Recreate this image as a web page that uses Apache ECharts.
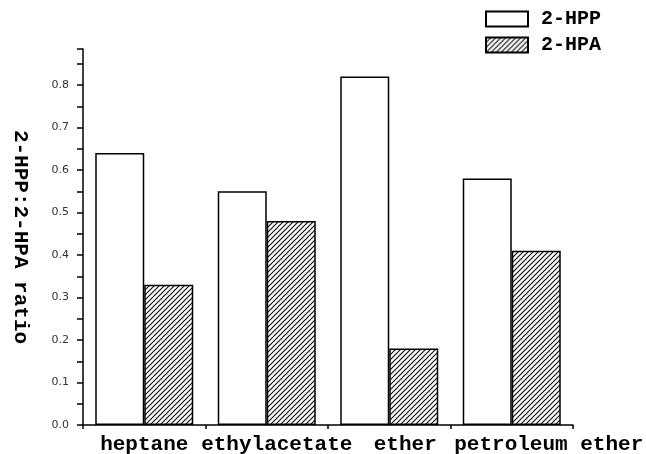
<!DOCTYPE html>
<html><head><meta charset="utf-8">
<script src="https://cdn.jsdelivr.net/npm/echarts@6/dist/echarts.min.js"></script>
<style>html,body{margin:0;padding:0;background:#fff}#c{width:646px;height:454px}</style>
</head><body><div id="c"></div>
<script>
const categories = ['heptane', 'ethylacetate', 'ether', 'petroleum ether'];
const seriesNames = ['2-HPP', '2-HPA'];
const hppValues = [0.64, 0.55, 0.82, 0.58];
const hpaValues = [0.33, 0.48, 0.18, 0.41];
const yTickValues = ['0.0','0.1','0.2','0.3','0.4','0.5','0.6','0.7','0.8'];

function hatch() {
  const s = 5, c = document.createElement('canvas');
  c.width = s; c.height = s;
  const g = c.getContext('2d');
  g.fillStyle = '#fff'; g.fillRect(0,0,s,s);
  g.strokeStyle = '#111'; g.lineWidth = 1.2;
  g.beginPath();
  g.moveTo(0,s); g.lineTo(s,0);
  g.moveTo(-1,1); g.lineTo(1,-1);
  g.moveTo(s-1,s+1); g.lineTo(s+1,s-1);
  g.stroke();
  return c;
}
const pat = {image: hatch(), repeat: 'repeat'};
const boldFont = '"Liberation Mono", "DejaVu Sans Mono", monospace';
const labelShift = [0, 20, 32, 74];

const rich = {};
labelShift.forEach((p, i) => {
  rich['c' + i] = {fontFamily: boldFont, fontWeight: 'bold', fontSize: 21, color: '#000', padding: [0, 0, 0, p]};
});

const chart = echarts.init(document.getElementById('c'), null, {renderer: 'canvas'});
chart.setOption({
  animation: false,
  backgroundColor: '#fff',
  grid: {left: 83, right: 73, top: 49, bottom: 29, containLabel: false, outerBoundsMode: 'none'},
  legend: {
    orient: 'vertical', left: 480, top: 4, itemWidth: 42, itemHeight: 15, itemGap: 6,
    icon: 'rect',
    textStyle: {fontFamily: boldFont, fontWeight: 'bold', fontSize: 20, lineHeight: 16, color: '#000', padding: [0,0,0,8]},
    data: seriesNames
  },
  xAxis: {
    type: 'category', data: categories,
    axisLine: {lineStyle: {color: '#000', width: 1.5}},
    axisTick: {show: true, length: 4, lineStyle: {color: '#000', width: 1.5}},
    axisLabel: {fontFamily: boldFont, fontWeight: 'bold', fontSize: 21, color: '#000', margin: 9,
      interval: 0, hideOverlap: false, rich: rich,
      formatter: (v, i) => '{c' + i + '|' + v + '}'}
  },
  yAxis: {
    type: 'value', min: 0, max: 0.885, interval: 0.1,
    name: '2-HPP:2-HPA ratio', nameLocation: 'middle', nameRotate: -90, nameGap: 52,
    nameTextStyle: {fontFamily: boldFont, fontWeight: 'bold', fontSize: 21, color: '#000'},
    axisLine: {show: true, lineStyle: {color: '#000', width: 1.5}},
    axisTick: {show: true, length: 6, lineStyle: {color: '#000', width: 1.5}},
    minorTick: {show: true, splitNumber: 2, length: 6, lineStyle: {color: '#000', width: 1.5}},
    splitLine: {show: false},
    axisLabel: {showMaxLabel: false, margin: 14, fontSize: 11, color: '#333', fontFamily: 'DejaVu Sans',
      formatter: v => yTickValues[Math.round(v * 10)] || ''}
  },
  series: [
    {name: seriesNames[0], type: 'bar', data: hppValues, barGap: '0%', barCategoryGap: '20%',
      itemStyle: {color: '#fff', borderColor: '#000', borderWidth: 1.5}},
    {name: seriesNames[1], type: 'bar', data: hpaValues, barGap: '0%', barCategoryGap: '20%',
      itemStyle: {color: pat, borderColor: '#000', borderWidth: 1.5}}
  ]
});
</script></body></html>
